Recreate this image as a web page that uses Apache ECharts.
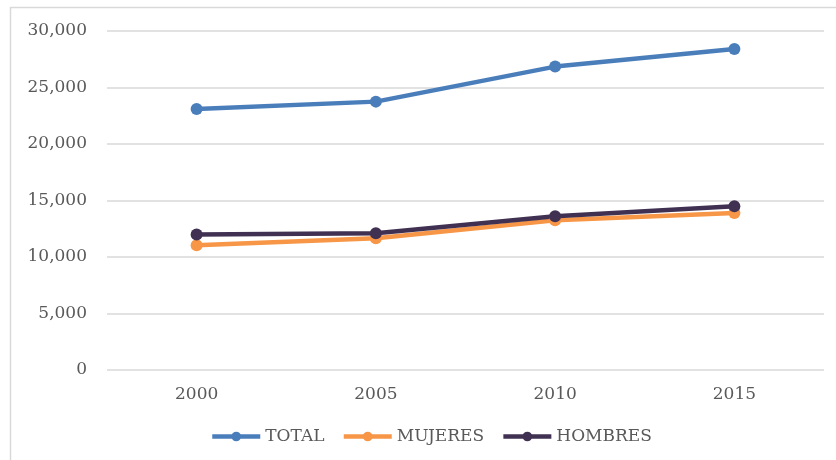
<!DOCTYPE html>
<html><head><meta charset="utf-8">
<script src="https://cdn.jsdelivr.net/npm/echarts@6/dist/echarts.min.js"></script>
<style>html,body{margin:0;padding:0;background:#fff}#c{width:836px;height:460px}</style>
</head><body><div id="c"></div>
<script>
var categories = ['2000', '2005', '2010', '2015'];
var total = [23100, 23750, 26850, 28400];
var mujeres = [11050, 11650, 13250, 13900];
var hombres = [12000, 12100, 13600, 14500];
var yTicks = [0, 5000, 10000, 15000, 20000, 25000, 30000];

var font = 'DejaVu Serif';
var chart = echarts.init(document.getElementById('c'));
function s(name, data, color) {
  return {
    name: name, type: 'line', data: data,
    symbol: 'circle', symbolSize: 12,
    lineStyle: {width: 4.5, color: color},
    itemStyle: {color: color},
    emphasis: {disabled: true}
  };
}
chart.setOption({
  animation: false,
  graphic: [{type: 'rect', shape: {x: 10.5, y: 7.5, width: 900, height: 600},
    style: {fill: 'none', stroke: '#d9d9d9', lineWidth: 1.5}, z: 0}],
  grid: {left: 107, right: 12, top: 31, bottom: 90},
  legend: {
    bottom: 10, left: 205, itemWidth: 48, itemHeight: 12, itemGap: 17,
    lineStyle: {width: 4.5},
    textStyle: {fontFamily: font, fontSize: 17, color: '#595959'},
    data: ['TOTAL', 'MUJERES', 'HOMBRES']
  },
  xAxis: {
    type: 'category', data: categories, boundaryGap: true,
    axisLine: {show: false}, axisTick: {show: false},
    axisLabel: {fontFamily: font, fontSize: 17, color: '#595959', margin: 16}
  },
  yAxis: {
    type: 'value', min: yTicks[0], max: yTicks[yTicks.length - 1], interval: 5000,
    axisLine: {show: false}, axisTick: {show: false},
    splitLine: {lineStyle: {color: '#d9d9d9', width: 1.5}},
    axisLabel: {fontFamily: font, fontSize: 17, color: '#595959', margin: 20,
      formatter: function (v) { return v.toLocaleString('en-US'); }}
  },
  series: [s('TOTAL', total, '#4a7ebb'), s('MUJERES', mujeres, '#f79646'), s('HOMBRES', hombres, '#403152')]
});
</script></body></html>
